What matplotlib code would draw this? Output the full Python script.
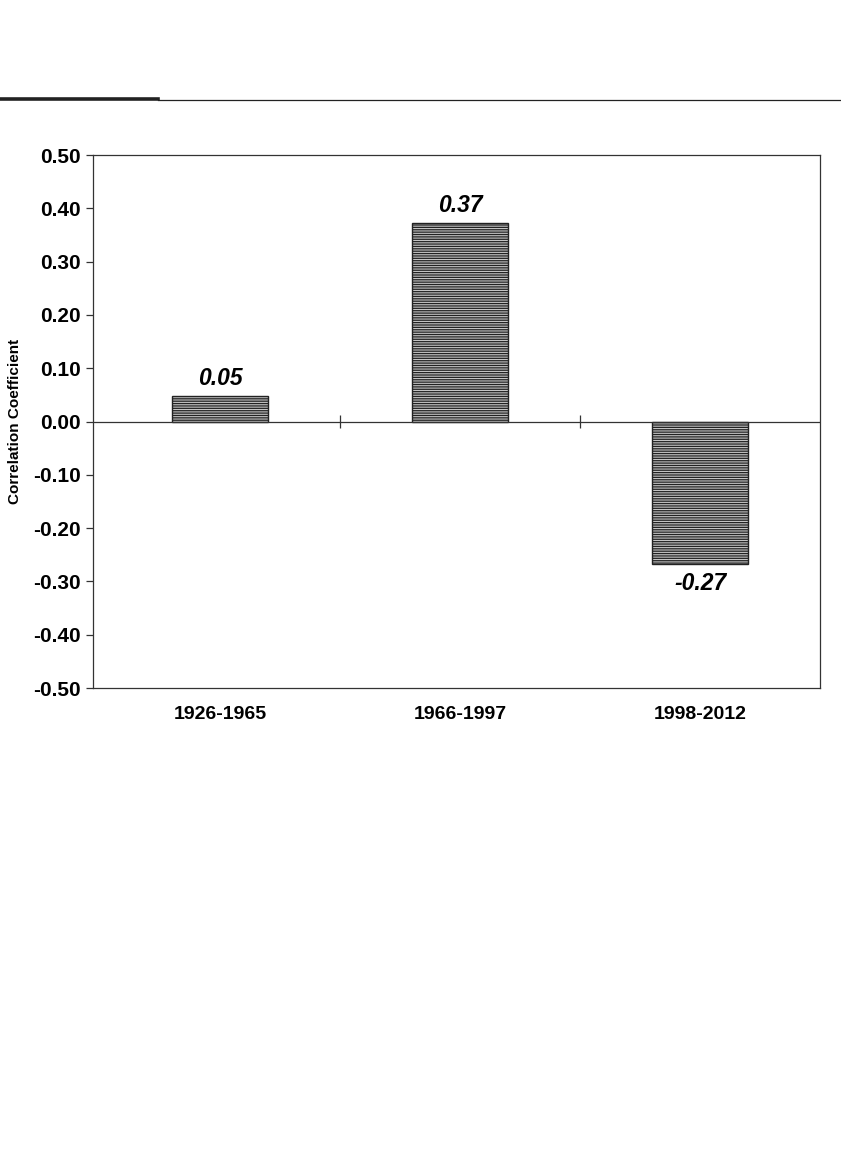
import matplotlib
matplotlib.use("Agg")
import matplotlib.pyplot as plt
from matplotlib.lines import Line2D

# DATA ----------------------------------------------------------------------

periods = ["1926-1965", "1966-1997", "1998-2012"]
corr = [0.047, 0.372, -0.268]
corr_labels = ["0.05", "0.37", "-0.27"]
yticks = [-0.5, -0.4, -0.3, -0.2, -0.1, 0.0, 0.1, 0.2, 0.3, 0.4, 0.5]

# PLOT ----------------------------------------------------------------------

plt.rcParams['font.family'] = ['Liberation Sans', 'DejaVu Sans']
plt.rcParams['hatch.color'] = '#505050'
plt.rcParams['hatch.linewidth'] = 0.9

fig = plt.figure(figsize=(8.41, 11.55), dpi=100)
ax = fig.add_axes([0.1106, 0.4043, 0.8645, 0.4615])

x = list(range(len(periods)))
ax.bar(x, corr, width=0.40, facecolor='#c4c4c4', edgecolor='#222222',
       linewidth=1.0, hatch='-------', zorder=2)

ax.axhline(0, color='#333333', linewidth=0.9, zorder=3)
ax.vlines([0.5, 1.5], -0.013, 0.013, color='#333333', linewidth=0.9, zorder=3)

for xi, v, lab in zip(x, corr, corr_labels):
    if v >= 0:
        ax.text(xi, v + 0.012, lab, ha='center', va='bottom',
                fontsize=16.5, fontweight='bold', fontstyle='italic')
    else:
        ax.text(xi, v - 0.014, lab, ha='center', va='top',
                fontsize=16.5, fontweight='bold', fontstyle='italic')

ax.set_xlim(-0.53, 2.5)
ax.set_ylim(-0.5, 0.5)
ax.set_yticks(yticks)
ax.set_yticklabels([f"{t:.2f}" for t in yticks], fontsize=15, fontweight='bold')
ax.set_xticks(x)
ax.set_xticklabels(periods, fontsize=14, fontweight='bold')
ax.tick_params(axis='x', length=0, pad=13)
ax.tick_params(axis='y', direction='out', length=5, width=0.9,
               color='#333333', pad=4)
ax.set_ylabel('Correlation Coefficient', fontsize=11, fontweight='bold',
              labelpad=8)
for s in ax.spines.values():
    s.set_color('#333333')
    s.set_linewidth(0.9)

# header rule
fig.add_artist(Line2D([0.0, 0.188], [1 - 99/1155] * 2, color='#222222',
                      linewidth=2.6, transform=fig.transFigure))
fig.add_artist(Line2D([0.188, 1.0], [1 - 100/1155] * 2, color='#222222',
                      linewidth=0.9, transform=fig.transFigure))

fig.savefig("out.png", dpi=100)
